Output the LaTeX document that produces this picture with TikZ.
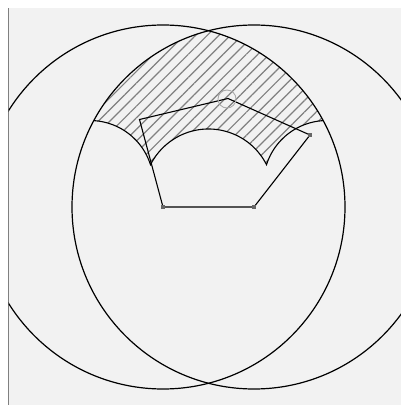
\documentclass[tikz,border=0pt]{standalone}
\usetikzlibrary{patterns.meta}
\definecolor{bgc}{HTML}{F2F2F2}
\definecolor{hatchc}{HTML}{808080}
\definecolor{dotc}{HTML}{666666}
\definecolor{markc}{HTML}{AAAAAA}
\begin{document}
\begin{tikzpicture}[x=1bp,y=1bp,
  bigcirc/.style={draw=black,line width=1.2bp},
  regionline/.style={draw=black,line width=1.1bp},
  pentline/.style={draw=black,line width=1.1bp,line join=miter},
  vdot/.style={fill=dotc,inner sep=0pt,minimum size=3.4bp,rectangle},
  hatchfill/.style={pattern={Lines[angle=45,distance=8.2bp,line width=1.2bp]},pattern color=hatchc}
]
\useasboundingbox (0,0) rectangle (401,405);
\fill[white] (0,0) rectangle (401,405);
\fill[bgc] (8,0) rectangle (401,397);
\draw[hatchc,line width=1bp] (8,0) -- (8,397);

% named points
\coordinate (cA) at (163,198);
\coordinate (cB) at (254,198);
\coordinate (pC) at (310,270);
\coordinate (pD) at (228,306.5);
\coordinate (pE) at (139.5,285.5);
\coordinate (mk) at (227,306);
\coordinate (P1) at (93.81,284.39);

% hatched region
\path[hatchfill] (P1)
  arc[start angle=151.66, end angle=104.48, radius=182]
  arc[start angle=75.52, end angle=28.34, radius=182]
  arc[start angle=93.44, end angle=162.29, radius=63.5]
  arc[start angle=26.81, end angle=153.19, radius=65]
  arc[start angle=17.71, end angle=86.56, radius=63.5] -- cycle;

% lower boundary arcs of the region
\draw[regionline] (323.19,284.39)
  arc[start angle=93.44, end angle=162.29, radius=63.5]
  arc[start angle=26.81, end angle=153.19, radius=65]
  arc[start angle=17.71, end angle=86.56, radius=63.5];

% big circles
\begin{scope}
\clip (8.5,0) rectangle (401,397);
\draw[bigcirc] (cA) circle[radius=182];
\draw[bigcirc] (cB) circle[radius=182];
\end{scope}

% pentagon
\draw[pentline] (cA) -- (cB) -- (pC) -- (pD) -- (pE) -- cycle;
\node[vdot] (dA) at (cA) {};
\node[vdot] (dB) at (cB) {};
\node[vdot] (dC) at (pC) {};
\node[draw=markc,line width=0.9bp,circle,inner sep=0pt,minimum size=18bp] (mkc) at (mk) {};
\end{tikzpicture}
\end{document}
